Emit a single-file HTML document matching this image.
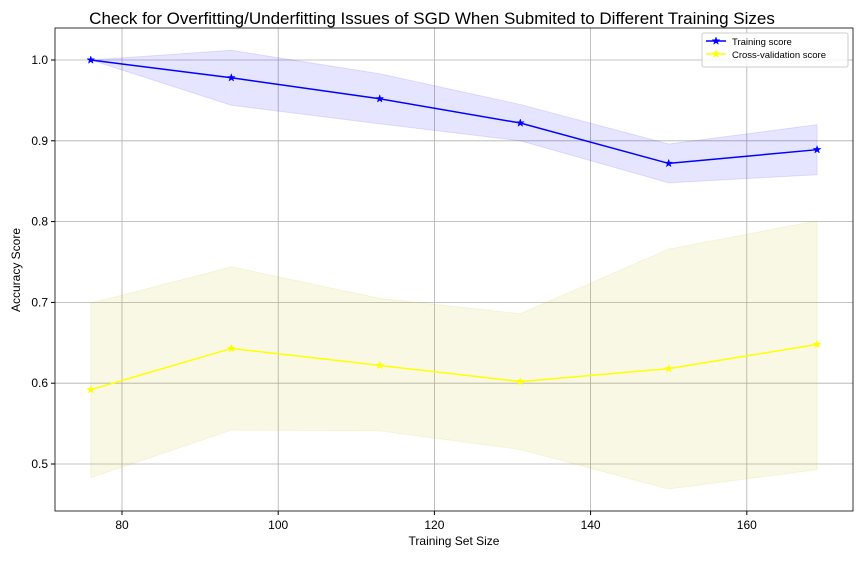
<!DOCTYPE html>
<html><head><meta charset="utf-8"><style>
body{margin:0;background:#fff;}
svg{display:block;font-family:"Liberation Sans",sans-serif;}
</style></head><body>
<svg id="chart" width="864" height="576"></svg>
<script>
const sizes=[76,94,113,131,150,169];
const trainMean=[1.0,0.978,0.952,0.922,0.872,0.889];
const trainUpper=[1.0,1.012,0.983,0.945,0.896,0.920];
const trainLower=[1.0,0.944,0.921,0.900,0.848,0.858];
const cvMean=[0.592,0.643,0.622,0.602,0.618,0.648];
const cvUpper=[0.699,0.744,0.705,0.686,0.766,0.801];
const cvLower=[0.483,0.542,0.541,0.518,0.469,0.493];
const xTicks=[80,100,120,140,160];
const yTicks=[0.5,0.6,0.7,0.8,0.9,1.0];

const L=55,R=853,T=28,B=511;
const X=v=>122+(v-80)*7.81;
const Y=v=>464-(v-0.5)*808;
const svg=document.getElementById('chart');
const NS='http://www.w3.org/2000/svg';
function mk(tag,attrs,parent){const e=document.createElementNS(NS,tag);for(const k in attrs)e.setAttribute(k,attrs[k]);(parent||svg).appendChild(e);return e;}

xTicks.forEach(t=>{
  const g=mk('line',{x1:X(t),x2:X(t),y1:T,y2:B,stroke:'#b0b0b0','stroke-width':0.8});
  
  
  mk('line',{x1:X(t),x2:X(t),y1:B,y2:B+4,stroke:'#000'});
  const lb=mk('text',{x:X(t),y:B+18,'text-anchor':'middle','font-size':12});
  lb.textContent=t;
  
  
});
yTicks.forEach(t=>{
  const g=mk('line',{x1:L,x2:R,y1:Y(t),y2:Y(t),stroke:'#b0b0b0','stroke-width':0.8});
  
  
  mk('line',{x1:L-4,x2:L,y1:Y(t),y2:Y(t),stroke:'#000'});
  const lb=mk('text',{x:L-7,y:Y(t)+4,'text-anchor':'end','font-size':12});
  lb.textContent=t.toFixed(1);
  
  
});

function band(up,lo,color,name){
  let d='M'+sizes.map((s,i)=>X(s)+','+Y(up[i])).join('L');
  d+='L'+sizes.map((s,i)=>X(s)+','+Y(lo[i])).reverse().join('L')+'Z';
  const p=mk('path',{d:d,fill:color,'fill-opacity':0.1,stroke:color,'stroke-opacity':0.1});
  
  
}
function star(cx,cy,r,color,parent){
  let pts=[];for(let k=0;k<10;k++){const a=-Math.PI/2+k*Math.PI/5;const rr=k%2?r*0.4:r;pts.push((cx+rr*Math.cos(a)).toFixed(2)+','+(cy+rr*Math.sin(a)).toFixed(2));}
  return mk('polygon',{points:pts.join(' '),fill:color,stroke:color,'stroke-width':0.5},parent);
}
function line(vals,color,name){
  const p=mk('polyline',{points:sizes.map((s,i)=>X(s)+','+Y(vals[i])).join(' '),fill:'none',stroke:color,'stroke-width':1.5});
  
  
  sizes.forEach((s,i)=>{const m=star(X(s),Y(vals[i]),4,color);
    
    });
}
band(trainUpper,trainLower,'#0000ff','training-band');
band(cvUpper,cvLower,'#bfbf00','cv-band');
line(trainMean,'#0000ff','training-line');
line(cvMean,'#ffff00','cv-line');

const frame=mk('rect',{x:L,y:T,width:R-L,height:B-T,fill:'none',stroke:'#000','stroke-width':0.8});



const title=mk('text',{x:432,y:24,'text-anchor':'middle','font-size':17});
title.textContent='Check for Overfitting/Underfitting Issues of SGD When Submited to Different Training Sizes';


const xt=mk('text',{x:454,y:545,'text-anchor':'middle','font-size':12});
xt.textContent='Training Set Size';


const yt=mk('text',{x:20,y:270,'text-anchor':'middle','font-size':12,transform:'rotate(-90 20 270)'});
yt.textContent='Accuracy Score';



const lg=mk('g',{});


mk('rect',{x:702,y:33,width:146,height:34,rx:2,fill:'#fff','fill-opacity':0.8,stroke:'#ccc'},lg);
[['Training score','#0000ff',45],['Cross-validation score','#ffff00',58]].forEach(([t,c,y])=>{
  const e=mk('g',{},lg);
  
  
  mk('line',{x1:706,x2:726,y1:y-4,y2:y-4,stroke:c,'stroke-width':1.5},e);
  star(716,y-4,4,c,e);
  const tx=mk('text',{x:732,y:y,'font-size':9.5},e);tx.textContent=t;
});
</script>
</body></html>
